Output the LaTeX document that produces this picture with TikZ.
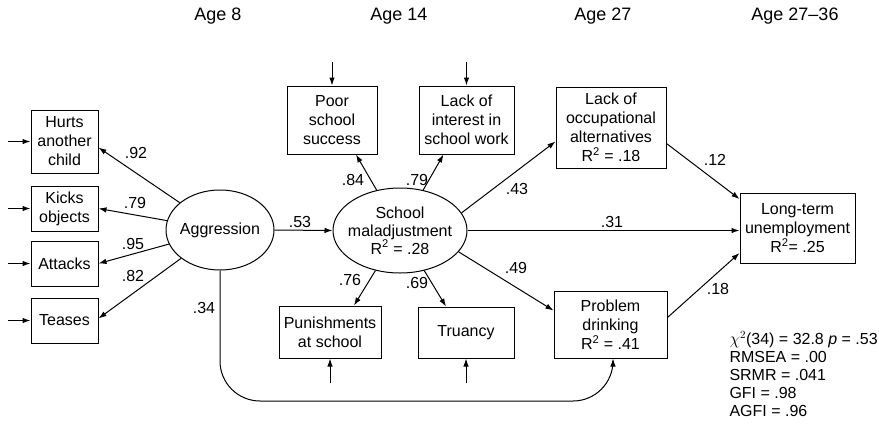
\documentclass[tikz,border=0pt]{standalone}
\usepackage{fontspec}
\setmainfont{Liberation Sans}
\usepackage{amsmath}
\usetikzlibrary{calc, shapes, arrows.meta}

\tikzset{
  obs/.style={draw, line width=1pt, align=center, inner sep=0pt, font=\fontsize{16}{19}\selectfont},
  lat/.style={draw, ellipse, line width=1pt, align=center, inner sep=-6pt, font=\fontsize{16}{18}\selectfont},
  coef/.style={font=\fontsize{16}{19}\selectfont},
  age/.style={font=\fontsize{18}{22}\selectfont},
  >={Latex[length=8pt,width=5.5pt]},
}

\begin{document}
\begin{tikzpicture}[x=1pt, y=-1pt, line width=1pt]
\useasboundingbox (0,0) rectangle (879,429);

% ages
\node[age] (a8) at (218,16) {Age 8};
\node[age] (a14) at (399,16) {Age 14};
\node[age] (a27) at (603,16) {Age 27};
\node[age] (a2736) at (795,16) {Age 27--36};

% indicators of aggression
\node[obs, minimum width=67pt, minimum height=63pt] (hurts) at (64.5,141.5) {Hurts\\another\\child};
\node[obs, minimum width=67pt, minimum height=45pt] (kicks) at (64.5,208.5) {Kicks\\objects};
\node[obs, minimum width=67pt, minimum height=45pt] (attacks) at (64.5,263.5) {Attacks};
\node[obs, minimum width=67pt, minimum height=45pt] (teases) at (64.5,320.5) {Teases};

% latent variables
\node[lat, minimum width=108pt, minimum height=80pt] (aggr) at (220,230) {Aggression};
\node[lat, minimum width=134pt, minimum height=85pt] (school) at (400,230.5) {School\\maladjustment\\R\textsuperscript{2} = .28};

% indicators of school maladjustment
\node[obs, minimum width=90pt, minimum height=68pt] (poor) at (332,120) {Poor\\school\\success};
\node[obs, minimum width=95pt, minimum height=68pt] (lackint) at (466.5,120) {Lack of\\interest in\\school work};
\node[obs, minimum width=102pt, minimum height=52pt] (punish) at (330,332) {Punishments\\at school};
\node[obs, minimum width=96pt, minimum height=51pt] (truancy) at (466,332.5) {Truancy};

% outcomes
\node[obs, minimum width=110pt, minimum height=81pt] (lackocc) at (611,127.5) {Lack of\\occupational\\alternatives\\R\textsuperscript{2} = .18};
\node[obs, minimum width=113pt, minimum height=67pt] (drink) at (610.5,324.5) {Problem\\drinking\\R\textsuperscript{2} = .41};
\node[obs, minimum width=115pt, minimum height=70pt] (unemp) at (797.5,228) {Long-term\\unemployment\\R\textsuperscript{2}= .25};

% error terms
\foreach \n in {hurts, kicks, attacks, teases}
  \draw[->] ($(\n.west)+(-23,0)$) -- (\n.west);
\foreach \n in {poor, lackint}
  \draw[->] ($(\n.north)+(0,-24)$) -- (\n.north);
\foreach \n in {punish, truancy}
  \draw[->] ($(\n.south)+(0,24)$) -- (\n.south);

% loadings
\draw[->] (aggr) -- ($(hurts.east)+(0,6)$);
\draw[->] (aggr) -- (kicks.east);
\draw[->] (aggr) -- (attacks.east);
\draw[->] (aggr) -- ($(teases.east)+(0,-2)$);
\draw[->] (school) -- ($(poor.south)+(24,0)$);
\draw[->] (school) -- ($(lackint.south)+(-23,0)$);
\draw[->] (school) -- ($(punish.north)+(24,0)$);
\draw[->] (school) -- ($(truancy.north)+(-20,0)$);

% paths
\draw[->] (aggr.east) -- (school.west);
\draw[->] (school.16) -- ($(lackocc.west)+(0,14)$);
\draw[->] (school.east) -- (school.east -| unemp.west);
\draw[->] (school.-20) -- ($(drink.west)+(0,-14)$);
\draw[->] ($(lackocc.east)+(0,16)$) -- ($(unemp.west)+(0,-29)$);
\draw[->] ($(drink.east)+(0,-7)$) -- ($(unemp.west)+(0,25)$);
\coordinate (bend) at (613,401);
\draw[->, rounded corners=40pt] (aggr.south) |- (bend) -- ($(drink.south)+(2.5,0)$);

% coefficients
\node[coef] (c1) at (136,153) {.92};
\node[coef] (c2) at (135,203) {.79};
\node[coef] (c3) at (133,244) {.95};
\node[coef] (c4) at (133,276) {.82};
\node[coef] (c5) at (204,308) {.34};
\node[coef] (c6) at (300,222) {.53};
\node[coef] (c7) at (353,180) {.84};
\node[coef] (c8) at (417,180) {.79};
\node[coef] (c9) at (517,189) {.43};
\node[coef] (c10) at (612,222) {.31};
\node[coef] (c11) at (516,268) {.49};
\node[coef] (c12) at (350,280) {.76};
\node[coef] (c13) at (417,283) {.69};
\node[coef] (c14) at (715,160) {.12};
\node[coef] (c15) at (718,289) {.18};

% fit
\node[anchor=north west, align=left, inner sep=0pt, font=\fontsize{16}{18}\selectfont] (fit) at (729,331)
  {$\chi^2$(34) = 32.8 \textit{p} = .53\\RMSEA = .00\\SRMR = .041\\GFI = .98\\AGFI = .96};
\end{tikzpicture}
\end{document}
